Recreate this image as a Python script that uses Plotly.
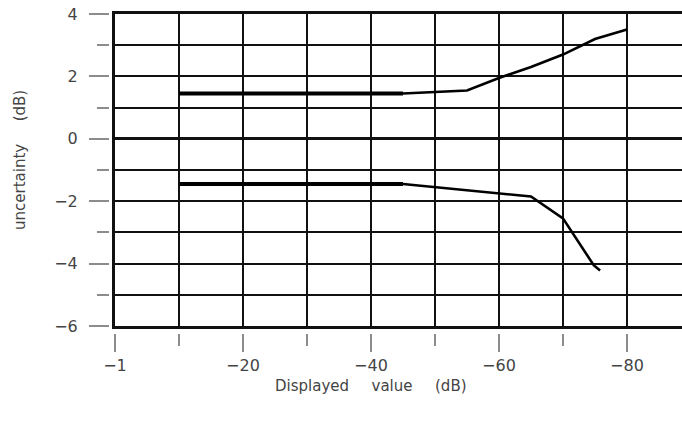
import plotly.graph_objects as go

# values
upper_thick_x = [-10, -45]
upper_thick_y = [1.45, 1.45]
upper_x = [-45, -55, -60, -65, -70, -75, -80]
upper_y = [1.45, 1.55, 1.95, 2.3, 2.7, 3.2, 3.5]

lower_thick_x = [-10, -45]
lower_thick_y = [-1.45, -1.45]
lower_x = [-45, -50, -65, -70, -74.8, -75.8]
lower_y = [-1.45, -1.55, -1.85, -2.55, -4.05, -4.22]

x_major = [0, -20, -40, -60, -80]
x_major_text = ["\u22121", "\u221220", "\u221240", "\u221260", "\u221280"]
x_minor = [-10, -30, -50, -70]
y_major = [4, 2, 0, -2, -4, -6]
y_major_text = ["4", "2", "0", "\u22122", "\u22124", "\u22126"]
y_minor = [3, 1, -1, -3, -5]

FONT = "DejaVu Sans"
TEXT = "#444444"
TICK = "#8c8c8c"
GAP = "\u2003\u2002"

fig = go.Figure()
for xs, ys, w in [
    (upper_thick_x, upper_thick_y, 4),
    (upper_x, upper_y, 2.6),
    (lower_thick_x, lower_thick_y, 4),
    (lower_x, lower_y, 2.6),
]:
    fig.add_trace(go.Scatter(x=xs, y=ys, mode="lines", line={"color": "black", "width": w},
                             showlegend=False, hoverinfo="skip"))

# invisible trace that holds the detached tick axes
fig.add_trace(go.Scatter(x=[None], y=[None], xaxis="x2", yaxis="y2", showlegend=False))

W, H = 682, 423
ml, mr, mt, mb = 80, 0, 14, 60
pw, ph = W - ml - mr, H - mt - mb
x_dom0 = (115 - ml) / pw
y_dom0 = (H - mb - 326) / ph

fig.update_layout(
    width=W, height=H,
    margin={"l": ml, "r": mr, "t": mt, "b": mb},
    paper_bgcolor="white", plot_bgcolor="white",
    font={"family": FONT, "size": 15, "color": TEXT},
    xaxis={
        "domain": [x_dom0, 1], "range": [0, -88.6], "tickvals": list(range(0, -90, -10)),
        "showticklabels": False, "ticks": "", "showgrid": True, "gridcolor": "#111",
        "gridwidth": 1.5, "zeroline": False, "showline": True, "linecolor": "#111",
        "linewidth": 2.5, "mirror": True,
    },
    yaxis={
        "domain": [y_dom0, 1], "range": [-6, 4], "tickvals": list(range(-6, 5)),
        "showticklabels": False, "ticks": "", "showgrid": True, "gridcolor": "#111",
        "gridwidth": 1.5, "zeroline": True, "zerolinecolor": "#111", "zerolinewidth": 2.5,
        "showline": True, "linecolor": "#111", "linewidth": 2.5,
    },
    xaxis2={
        "overlaying": "x", "anchor": "free", "position": (H - mb - 333) / ph,
        "range": [0, -88.6], "tickmode": "array", "tickvals": x_major, "ticktext": x_major_text,
        "ticks": "outside", "ticklen": 18, "tickwidth": 1.5, "tickcolor": TICK,
        "showgrid": False, "zeroline": False, "showline": False,
        "ticklabelstandoff": 0, "tickfont": {"size": 16},
        "minor": {"tickvals": x_minor, "ticks": "outside", "ticklen": 12, "tickwidth": 1.5,
                  "tickcolor": TICK, "showgrid": False},
    },
    yaxis2={
        "overlaying": "y", "anchor": "free", "position": (109 - ml) / pw,
        "range": [-6, 4], "tickmode": "array", "tickvals": y_major, "ticktext": y_major_text,
        "ticks": "outside", "ticklen": 20, "tickwidth": 1.5, "tickcolor": TICK,
        "showgrid": False, "zeroline": False, "showline": False,
        "ticklabelstandoff": 8, "tickfont": {"size": 16},
        "minor": {"tickvals": y_minor, "ticks": "outside", "ticklen": 12, "tickwidth": 1.5,
                  "tickcolor": TICK, "showgrid": False},
    },
)

# axis titles, placed by pixel position in the reference
titles = [
    ("Displayed" + GAP + "value" + GAP + "(dB)", 371, 386, 0),
    ("uncertainty" + GAP + "(dB)", 20, 160, -90),
]
for text, px_x, px_y, angle in titles:
    fig.add_annotation(
        text=text, x=(px_x - ml) / pw, y=((H - px_y) - mb) / ph, xref="paper", yref="paper",
        xanchor="center", yanchor="middle", textangle=angle, showarrow=False,
        font={"size": 15, "color": TEXT},
    )

fig.write_html("out.html", config={"displayModeBar": False},
               post_script="document.body.style.margin='0';")
